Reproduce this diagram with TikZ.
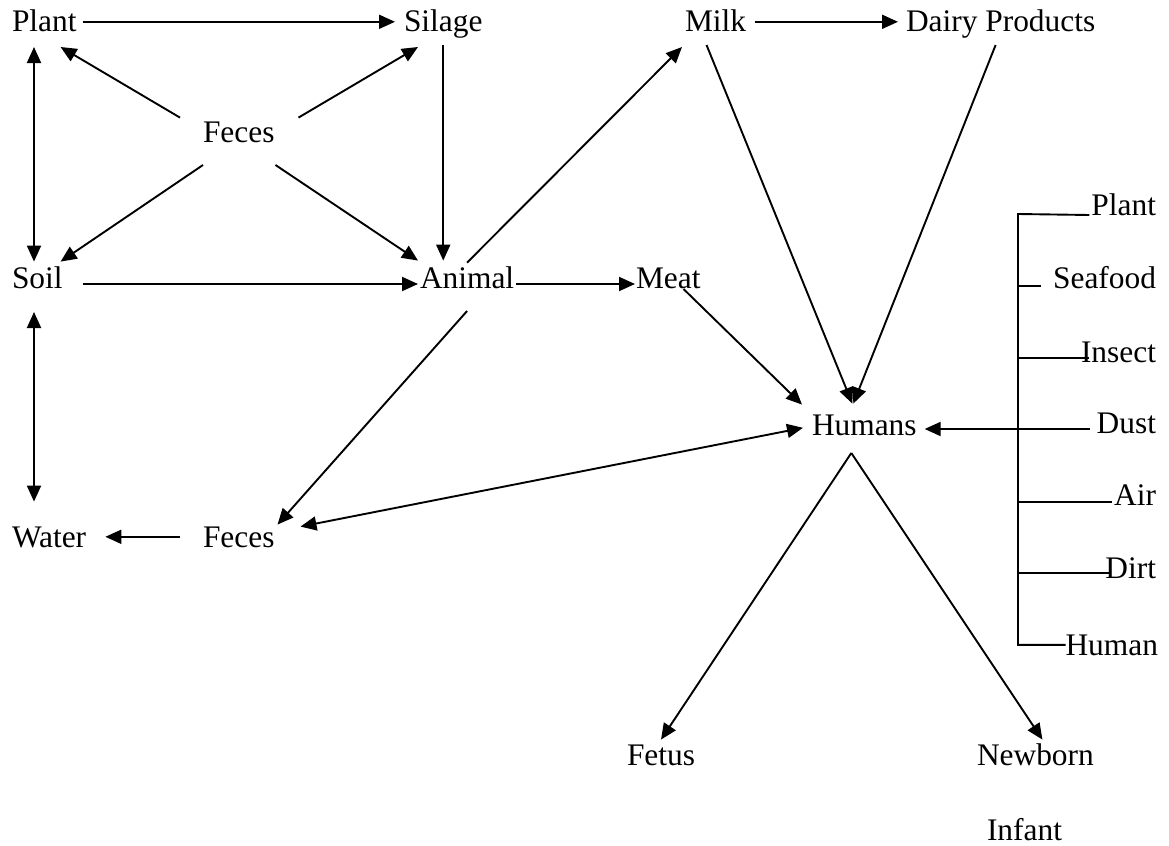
\documentclass[tikz,border=0pt]{standalone}
\usepackage{fontspec}
\setmainfont{Liberation Serif}
\usetikzlibrary{arrows.meta}
\begin{document}
\begin{tikzpicture}[x=0.5pt,y=-0.5pt,
  every node/.style={font=\fontsize{15.7}{18}\selectfont, inner sep=0pt, outer sep=0pt,
    text height=10.2pt, text depth=0pt, anchor=base west},
  arr/.style={-{Triangle[length=8pt,width=7pt]}, line width=0.95pt},
  dbl/.style={{Triangle[length=8pt,width=7pt]}-{Triangle[length=8pt,width=7pt]}, line width=0.95pt},
  branch/.style={line width=0.95pt}]
\useasboundingbox (0,0) rectangle (1169,846);
% sources and animal
\node (plantA) at (12,32) {Plant};
\node (silage) at (404,32) {Silage};
\node (milk) at (685,32) {Milk};
\node (dairy) at (906,32) {Dairy Products};
\node (fecesA) at (203,142) {Feces};
\node (soil) at (12,288) {Soil};
\node (animal) at (420,288) {Animal};
\node (meat) at (636,288) {Meat};
\node (humans) at (812,435) {Humans};
\node (water) at (12,547) {Water};
\node (fecesB) at (203,547) {Feces};
\node (fetus) at (627,765) {Fetus};
\node (newborn) at (977,765) {Newborn};
\node (infant) at (987,840) {Infant};
% right column
\node[anchor=base east] (plantB) at (1156,215) {Plant};
\node[anchor=base east] (seafood) at (1156,288) {Seafood};
\node[anchor=base east] (insect) at (1156,362) {Insect};
\node[anchor=base east] (dust) at (1156,433) {Dust};
\node[anchor=base east] (air) at (1156,505) {Air};
\node[anchor=base east] (dirt) at (1156,578) {Dirt};
\node[anchor=base east] (human) at (1158,655) {Human};

\draw[arr,shorten <=3pt,shorten >=4.5pt] (plantA.east) -- (silage.west);
\draw[arr,shorten <=4.3pt,shorten >=4pt] (milk.east) -- (dairy.west);
\draw[arr,shorten <=10pt,shorten >=1pt] ([yshift=2pt]soil.south east) -- ([yshift=2pt]animal.south west);
\draw[arr,shorten <=1pt,shorten >=0.5pt] ([yshift=2pt]animal.south east) -- ([yshift=2pt]meat.south west);
\draw[arr,shorten <=11.5pt,shorten >=9.6pt] (fecesB.west) -- (water.east);
\draw[dbl,shorten <=7.5pt,shorten >=3pt] ([xshift=11pt]plantA.south west) -- ([xshift=11pt]soil.north west);
\draw[dbl,shorten <=12pt,shorten >=12.5pt] ([xshift=11pt]soil.south west) -- ([xshift=11pt]water.north west);
\draw[arr,shorten <=6.5pt,shorten >=3.5pt] (silage.south) -- (silage.south |- animal.north);

% feces in the middle
\draw[arr] ([shift={(-23,-4)}]fecesA.north west) -- ([shift={(-16,15)}]plantA.south east);
\draw[arr] ([shift={(24,-4)}]fecesA.north east) -- ([shift={(14,15)}]silage.south west);
\draw[arr] ([shift={(0,23)}]fecesA.south west) -- ([shift={(-2,-6)}]soil.north east);
\draw[arr] ([shift={(1,23)}]fecesA.south east) -- ([shift={(-2,-7)}]animal.north west);

% animal to humans
\draw[arr] ([shift={(0,-5)}]animal.north) -- ([shift={(-3,15)}]milk.south west);
\draw[arr] ([shift={(0,23)}]animal.south) -- ([shift={(3,-2)}]fecesB.north east);
\draw[arr] ([shift={(-9,13)}]milk.south) -- ([shift={(-12,-11)}]humans.north);
\draw[arr] ([shift={(-5,13)}]dairy.south) -- ([shift={(-11,-11)}]humans.north);
\draw[arr] ([shift={(-17,1)}]meat.south east) -- ([shift={(-10,-10)}]humans.north west);
\draw[dbl] ([shift={(26,0)}]fecesB.north east) -- ([shift={(-9,3)}]humans.west);
\draw[arr] ([shift={(-13,18)}]humans.south) -- ([shift={(0,-5)}]fetus.north);
\draw[arr] ([shift={(-13,18)}]humans.south) -- ([shift={(7,-5)}]newborn.north);

% bracket
\coordinate (spine) at (1018,214);
\draw[branch] ([xshift=-1pt]plantB.south west) -- (spine) |- (human.west);
\foreach \n/\dx/\dy in {seafood/-12/2, insect/8/4, air/-2/3, dirt/4/5}
  \draw[branch] ([shift={(\dx,-\dy)}]\n.south west) coordinate (tip) -- (tip -| spine);
\draw[arr] ([shift={(-7,-4)}]dust.south west) coordinate (tip) -- ([xshift=4pt]tip -| humans.east);
\end{tikzpicture}
\end{document}
